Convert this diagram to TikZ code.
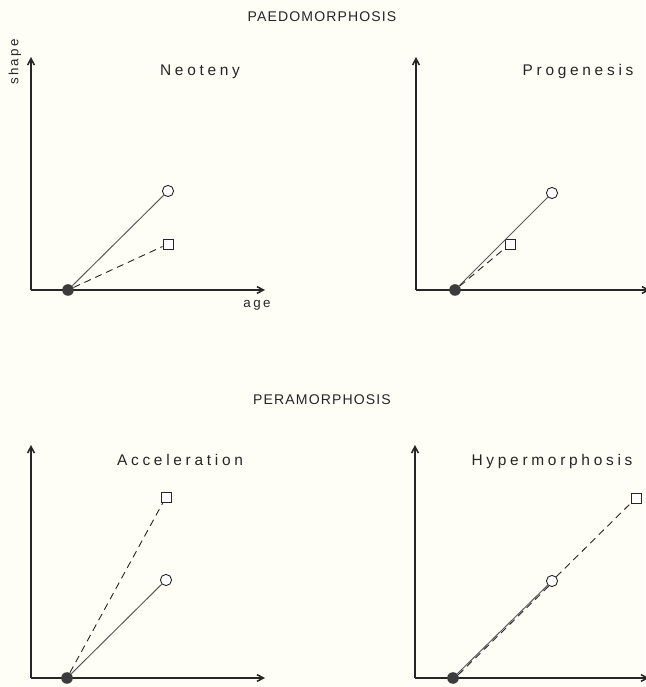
\documentclass[tikz,border=0pt]{standalone}
\usepackage{fontspec}
\setmainfont{Liberation Sans}
\setsansfont{Liberation Sans}
\newfontfamily\spacedsans[LetterSpace=8]{Liberation Sans}
\newfontfamily\widesans[LetterSpace=24]{Liberation Sans}
\newfontfamily\labelsans[LetterSpace=18]{Liberation Sans}
\usetikzlibrary{arrows.meta}
\definecolor{ink}{HTML}{262626}
\definecolor{trace}{HTML}{5A5A5A}
\definecolor{paper}{HTML}{FEFEF7}
\tikzset{
  axis/.style={draw=ink,line width=1.1pt,-{Straight Barb[length=1.6mm,width=1.7mm]}},
  ancestor/.style={draw=trace,line width=.7pt},
  descendant/.style={draw=ink,line width=.65pt,dash pattern=on 5pt off 3.5pt},
  juvenile/.style={circle,fill=ink!90,inner sep=0pt,minimum size=2.9mm},
  adultanc/.style={circle,draw=ink,fill=white,inner sep=0pt,minimum size=2.8mm,line width=.65pt},
  adultdesc/.style={rectangle,draw=ink,fill=white,inner sep=0pt,minimum size=2.5mm,line width=.65pt},
  heading/.style={font=\spacedsans\fontsize{10}{12}\selectfont,text=ink},
  process/.style={font=\widesans\fontsize{11}{13}\selectfont,text=ink},
  axislabel/.style={font=\labelsans\fontsize{9.5}{11}\selectfont,text=ink},
}

\begin{document}
\begin{tikzpicture}[x=1cm,y=1cm]
  % page is 16.125 x 17.175 cm; each panel is shifted to its axis corner
  \fill[paper] (0,0) rectangle (16.125,17.175);
  \useasboundingbox (0,0) rectangle (16.125,17.175);

  \node[heading] (paedo) at (8.05,16.75) {PAEDOMORPHOSIS};
  \node[heading] (pera) at (8.05,7.175) {PERAMORPHOSIS};

  % Neoteny: descendant grows at a slower rate
  \begin{scope}[shift={(.775,9.925)}]
    \coordinate (o1) at (0,0); \coordinate (y1) at (0,5.825); \coordinate (x1) at (5.85,0);
    \draw[axis] (o1) -- (y1);
    \draw[axis] (o1) -- (x1);
    \node[process] (neo) at (4.225,5.45) {Neoteny};
    \node[axislabel,rotate=90] (shape) at (-.4,5.7) {shape};
    \node[axislabel] (age) at (5.65,-.375) {age};
    \node[juvenile] (j1) at (.925,0) {};
    \node[adultanc] (a1) at (3.425,2.475) {};
    \node[adultdesc] (d1) at (3.425,1.15) {};
    \draw[ancestor] (j1) -- (a1);
    \draw[descendant] (j1) -- (d1);
  \end{scope}

  % Progenesis: same rate, growth stops earlier
  \begin{scope}[shift={(10.4,9.925)}]
    \coordinate (o2) at (0,0); \coordinate (y2) at (0,5.825); \coordinate (x2) at (5.85,0);
    \draw[axis] (o2) -- (y2);
    \draw[axis] (o2) -- (x2);
    \node[process] (prog) at (4.05,5.45) {Progenesis};
    \node[juvenile] (j2) at (.975,0) {};
    \node[adultanc] (a2) at (3.4,2.425) {};
    \node[adultdesc] (d2) at (2.35,1.15) {};
    \draw[ancestor] (j2) -- (a2);
    \draw[descendant] (j2) -- (d2);
  \end{scope}

  % Acceleration: descendant grows at a faster rate
  \begin{scope}[shift={(.775,.225)}]
    \coordinate (o3) at (0,0); \coordinate (y3) at (0,5.825); \coordinate (x3) at (5.85,0);
    \draw[axis] (o3) -- (y3);
    \draw[axis] (o3) -- (x3);
    \node[process] (accel) at (3.725,5.45) {Acceleration};
    \node[juvenile] (j3) at (.9,0) {};
    \node[adultanc] (a3) at (3.375,2.45) {};
    \node[adultdesc] (d3) at (3.375,4.525) {};
    \draw[ancestor] (j3) -- (a3);
    \draw[descendant] (j3) -- (d3);
  \end{scope}

  % Hypermorphosis: same rate, growth goes on longer
  \begin{scope}[shift={(10.375,.225)}]
    \coordinate (o4) at (0,0); \coordinate (y4) at (0,5.825); \coordinate (x4) at (5.85,0);
    \draw[axis] (o4) -- (y4);
    \draw[axis] (o4) -- (x4);
    \node[process] (hyper) at (3.425,5.4) {Hypermorphosis};
    \node[juvenile] (j4) at (.95,0) {};
    \node[adultanc] (a4) at (3.425,2.425) {};
    \node[adultdesc] (d4) at (5.525,4.5) {};
    \draw[ancestor] (j4) -- (a4);
    \draw[descendant,transform canvas={shift={(.7pt,-.7pt)}}] (j4) -- (a4);
    \draw[descendant] (a4) -- (d4);
  \end{scope}
\end{tikzpicture}
\end{document}
